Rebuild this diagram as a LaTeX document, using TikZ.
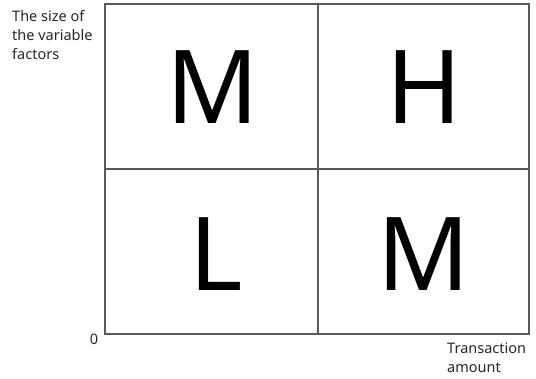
\documentclass[tikz,border=0pt]{standalone}
\usepackage{fontspec}
\setmainfont{Noto Sans}
\begin{document}
\begin{tikzpicture}[x=1pt,y=-1pt,
  cell/.style={draw=black!65,line width=1.4pt},
  big/.style={font=\fontsize{102}{102}\selectfont,inner sep=0pt,anchor=base},
  small/.style={font=\fontsize{14.5}{19}\selectfont,align=left,inner sep=0pt,text=black!85}]
\useasboundingbox (0,0) rectangle (536,378);
\coordinate (bl) at (105,334);
\coordinate (tr) at (529,4);
\draw[cell] (bl) rectangle (tr);
\coordinate (vt) at (318,4);
\coordinate (vb) at (318,334);
\coordinate (hl) at (105,169);
\coordinate (hr) at (529,169);
\draw[cell] (vt) -- (vb);
\draw[cell] (hl) -- (hr);
\node[big] (m1) at (212.5,123) {M};
\node[big] (h) at (424,123) {H};
\node[big] (l) at (216,290) {L};
\node[big] (m2) at (423.5,290) {M};
\node[small,anchor=north west] (ylab) at (12,10) {The size of\\the variable\\factors};
\node[small,anchor=base] (zero) at (94,344) {0};
\node[small,anchor=north west] (xlab) at (447,343) {Transaction\\amount};
\end{tikzpicture}
\end{document}
